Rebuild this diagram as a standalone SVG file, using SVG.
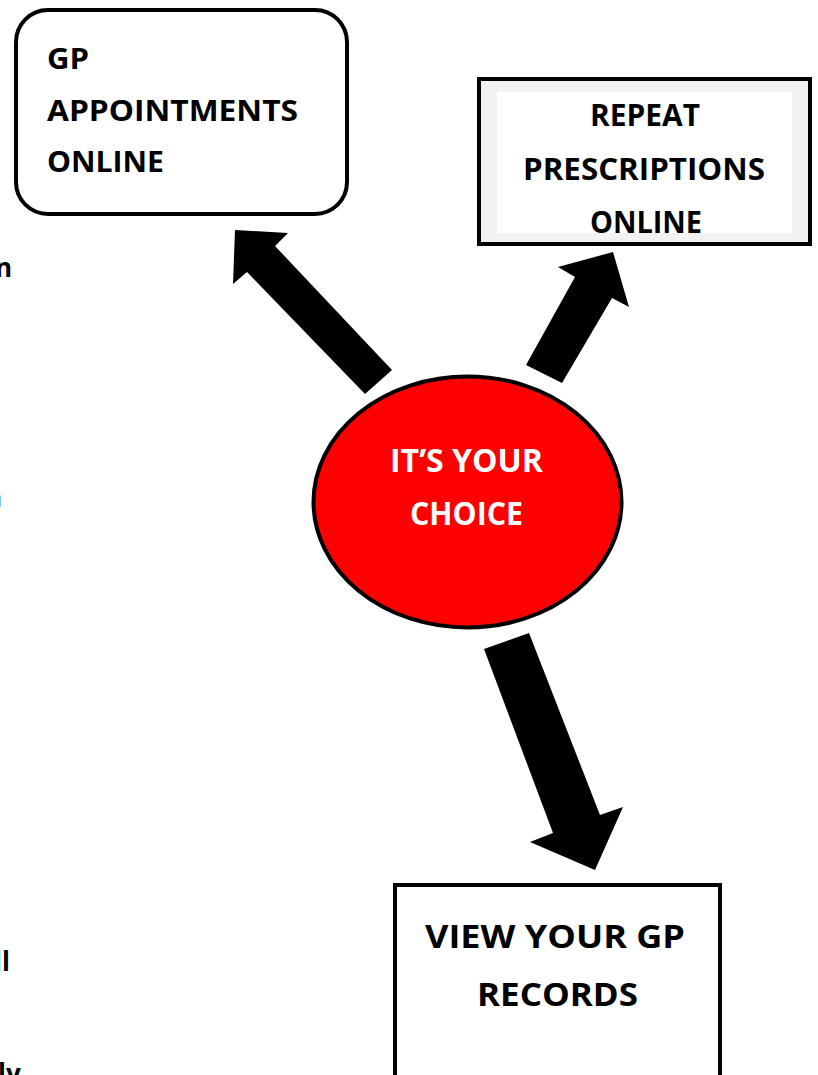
<svg xmlns="http://www.w3.org/2000/svg" width="818" height="1075" viewBox="0 0 818 1075">
<style>
.t{font-family:"Open Sans","Liberation Sans",sans-serif;font-weight:700;fill:#000}
.w{fill:#fff}
.box{fill:#fff;stroke:#000;stroke-width:4}
.arrow{fill:#000;stroke:none}
</style>
<rect width="818" height="1075" fill="#fff"/>
<g id="side-text">
<text class="t" x="-5" y="277" font-size="26">n</text>
<text class="t" x="-15" y="507" font-size="26" fill="#333">n</text>
<text class="t" x="-6" y="971" font-size="26">ll</text>
<text class="t" x="-2" y="1083" font-size="26">ly</text>
</g>
<g id="connectors">
<polygon class="arrow" points="235,230 288,233 275,246 392,370 365,394 247,272 233,284"/>
<polygon class="arrow" points="613,252 629,307 612,298 562,383 526,365 575,277 558,267"/>
<polygon class="arrow" points="484,649 529,633 600,815 623,807 595,870 530,842 553,833"/>
</g>
<g id="gp-appointments">
<rect class="box" x="16" y="10" width="331" height="204" rx="32"/>
<text class="t" font-size="28" x="47" y="69" textLength="42" lengthAdjust="spacingAndGlyphs">GP</text>
<text class="t" font-size="28" x="47" y="121" textLength="251" lengthAdjust="spacingAndGlyphs">APPOINTMENTS</text>
<text class="t" font-size="28" x="47" y="172" textLength="117" lengthAdjust="spacingAndGlyphs">ONLINE</text>
</g>
<g id="repeat-prescriptions">
<rect x="479" y="79" width="331" height="165" fill="#f2f2f2" stroke="#000" stroke-width="4"/>
<rect x="497" y="92" width="295" height="141" fill="#fff"/>
<text class="t" font-size="30" x="590" y="126" textLength="110" lengthAdjust="spacingAndGlyphs">REPEAT</text>
<text class="t" font-size="30" x="523" y="180" textLength="242" lengthAdjust="spacingAndGlyphs">PRESCRIPTIONS</text>
<text class="t" font-size="30" x="590" y="233" textLength="112" lengthAdjust="spacingAndGlyphs">ONLINE</text>
</g>
<g id="its-your-choice">
<ellipse cx="467.5" cy="502" rx="154" ry="125.5" fill="#ff0000" stroke="#000" stroke-width="4"/>
<text class="t w" font-size="33" x="390" y="472" textLength="153" lengthAdjust="spacingAndGlyphs">IT’S YOUR</text>
<text class="t w" font-size="33" x="410" y="525" textLength="113" lengthAdjust="spacingAndGlyphs">CHOICE</text>
</g>
<g id="view-gp-records">
<rect class="box" x="395" y="885" width="325" height="215"/>
<text class="t" font-size="33" x="425" y="948" textLength="260" lengthAdjust="spacingAndGlyphs">VIEW YOUR GP</text>
<text class="t" font-size="33" x="477" y="1006" textLength="161" lengthAdjust="spacingAndGlyphs">RECORDS</text>
</g>
</svg>
